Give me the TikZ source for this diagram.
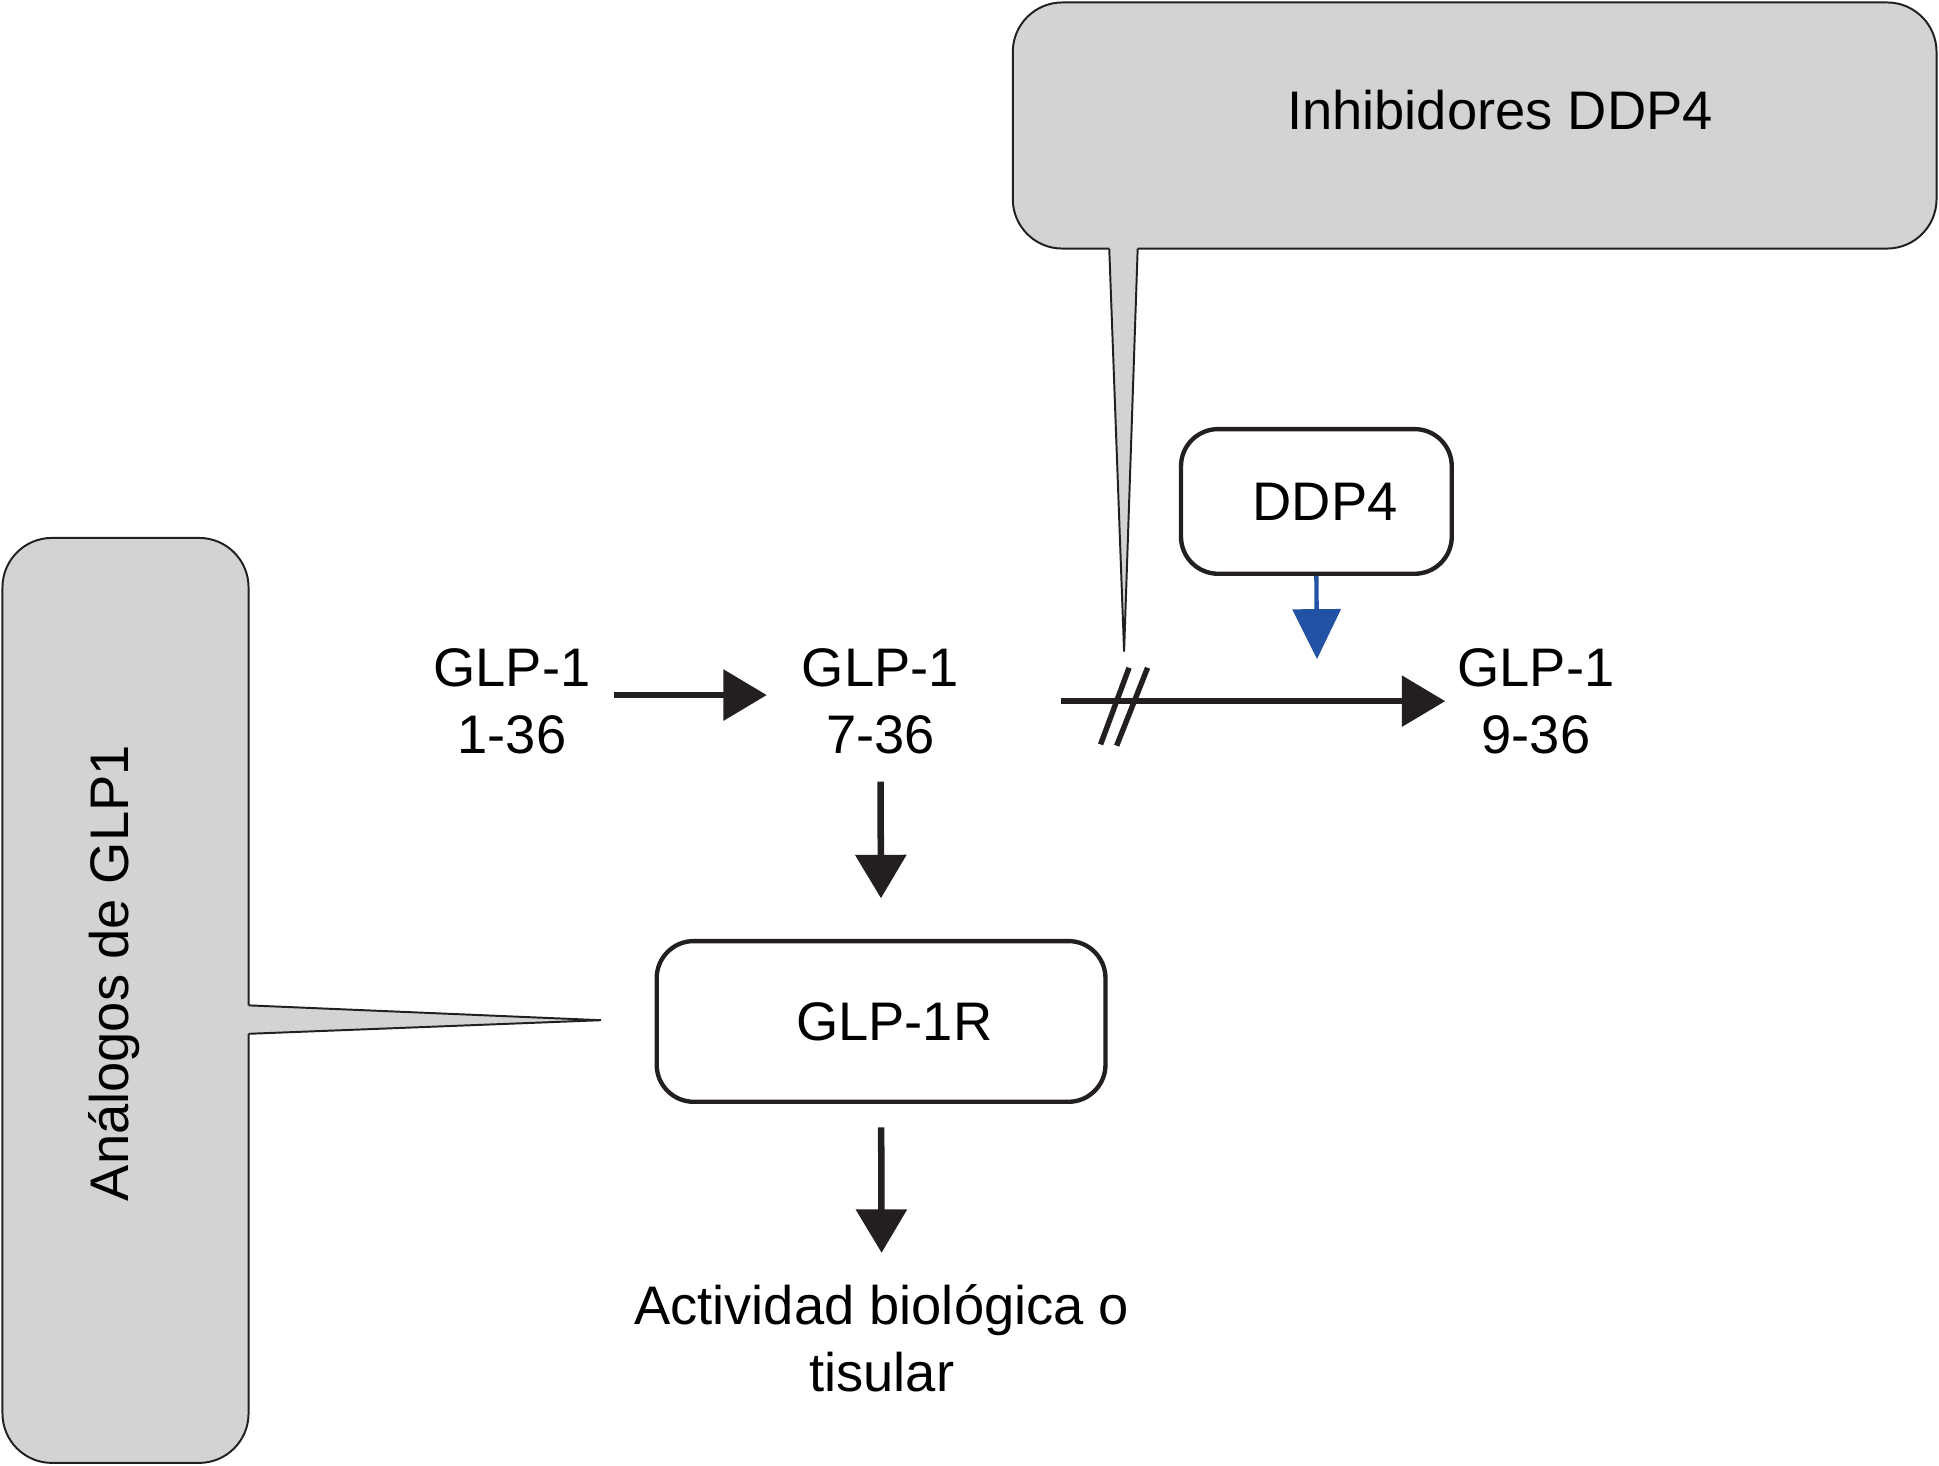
\documentclass[tikz,border=0pt]{standalone}
\usepackage{fontspec}
\setmainfont{Liberation Sans}
\usetikzlibrary{arrows.meta}
\definecolor{gris}{RGB}{209,211,212}
\definecolor{azul}{RGB}{33,82,164}
\definecolor{negro}{RGB}{35,31,32}
\tikzset{
  flecha/.style={line width=3pt,draw=negro,-{Triangle[width=23pt,length=20pt]}},
  caja/.style={draw=negro,line width=2pt,rounded corners=0.6cm,fill=white,
    font=\fontsize{25}{31}\selectfont},
  texto/.style={align=center,inner sep=0pt,font=\fontsize{25}{31}\selectfont},
  vyn/.style={draw=negro,line width=0.9pt}
}
\begin{document}
\begin{tikzpicture}[x=0.02cm,y=-0.02cm]
   \useasboundingbox (0,0) rectangle (1568,1185);
   % выноски
   \filldraw[vyn,fill=gris,rounded corners=0.8cm] (819,2) rectangle (1566,201);
   \fill[gris] (897,199) -- (909,527) -- (920,199) -- cycle;
   \draw[vyn] (897,201) -- (909,527) -- (920,201);
   \filldraw[vyn,fill=gris,rounded corners=0.8cm] (2,435) rectangle (201,1183);
   \fill[gris] (199,813) -- (486,825) -- (199,836) -- cycle;
   \draw[vyn] (201,813) -- (486,825) -- (201,836);
   \node[texto] (inh) at (1213,89) {Inhibidores DDP4};
   \node[texto,rotate=90] (ana) at (92,787) {Análogos de GLP1};
   %
   \node[texto] (g136) at (414,567) {GLP-1\\1-36};
   \node[texto] (g736) at (712,567) {GLP-1\\7-36};
   \node[texto] (g936) at (1242,567) {GLP-1\\9-36};
   \node[caja,minimum width=4.38cm,minimum height=2.34cm] (ddp4) at (1064.5,405.5) {\hspace*{8pt}DDP4};
   \node[caja,minimum width=7.26cm,minimum height=2.6cm] (glp1r) at (712.5,826) {\hspace*{12pt}GLP-1R};
   \node[texto] (act) at (713,1082) {Actividad biológica o\\tisular};
   \coordinate (corte) at (1065,533);
   % стрелки
   \draw[flecha,shorten <=10.5pt,shorten >=16pt]
   ([yshift=2.8pt]g136.east) -- ([yshift=2.8pt]g736.west);
   \draw[flecha,shorten <=46.8pt,shorten >=5.4pt] (g736.east) -- (g936.west);
   \draw[flecha,shorten <=12.5pt,shorten >=18.7pt] (g736.south) -- (glp1r.north);
   \draw[flecha,shorten <=10.8pt,shorten >=14.2pt] (glp1r.south) -- (act.north);
   \draw[azul,line width=2pt,-{Triangle[width=22pt,length=23pt]}] (ddp4.south) -- (corte);
   % разрыв
   \draw[negro,line width=2.5pt] (890,602) -- (913,540) (903,603) -- (928,540);
\end{tikzpicture}
\end{document}
